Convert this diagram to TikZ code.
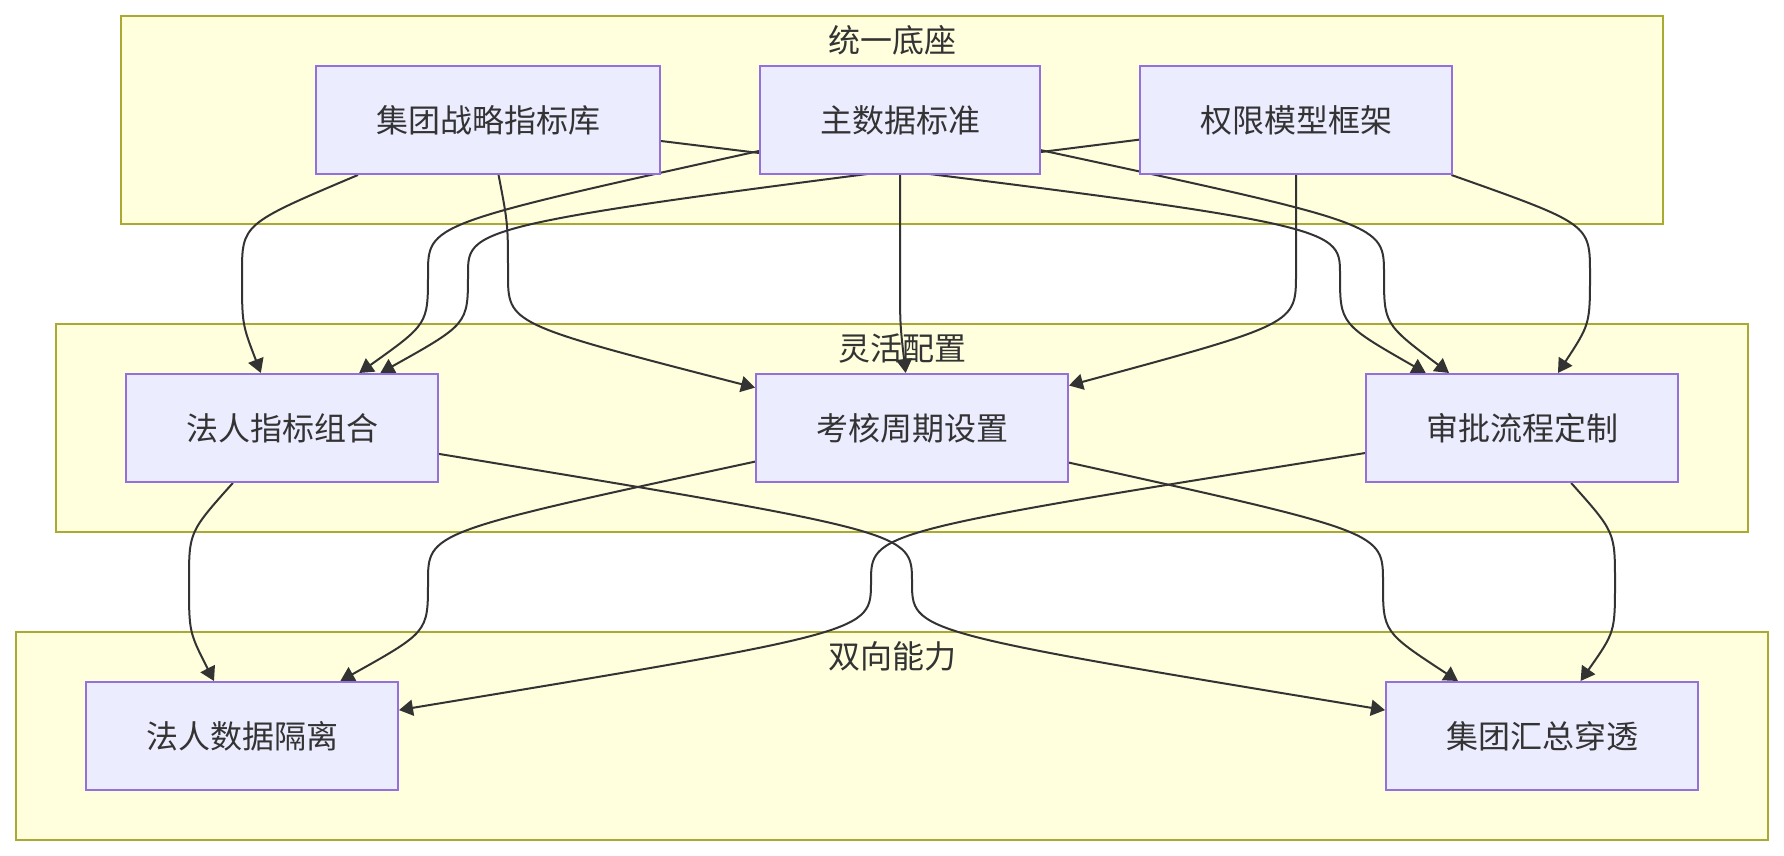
\documentclass[tikz,border=0pt]{standalone}
\usepackage{fontspec}
\setmainfont{Noto Sans CJK SC}
\usetikzlibrary{arrows.meta}
\definecolor{sgfill}{HTML}{FFFFDE}
\definecolor{sgdraw}{HTML}{AAAA33}
\definecolor{ndfill}{HTML}{ECECFF}
\definecolor{nddraw}{HTML}{9370DB}
\definecolor{ink}{HTML}{333333}
\pgfdeclarelayer{bg}
\pgfdeclarelayer{links}
\pgfsetlayers{bg,links,main}
\tikzset{
  nodebox/.style={draw=nddraw,fill=ndfill,line width=1pt,minimum height=54pt,inner xsep=30pt,inner ysep=0pt,text=ink},
  subgraph/.style={draw=sgdraw,fill=sgfill,line width=1pt},
  sgtitle/.style={text=ink,inner sep=0pt},
  link/.style={draw=ink,line width=1pt,-{Triangle[length=7pt,width=8pt]}}
}
\begin{document}
\begin{tikzpicture}[x=0.5pt,y=-0.5pt,font=\fontsize{16pt}{19pt}\selectfont]
\useasboundingbox (0,0) rectangle (1784,856);
% subgraphs
\begin{pgfonlayer}{bg}
\draw[subgraph] (121,16) rectangle (1663,224);
\draw[subgraph] (56,324) rectangle (1748,532);
\draw[subgraph] (16,632) rectangle (1768,840);
\end{pgfonlayer}
\node[sgtitle] (base) at (892,40) {统一底座};
\node[sgtitle] (conf) at (902,348) {灵活配置};
\node[sgtitle] (dual) at (892,656) {双向能力};
% nodes
\node[nodebox] (jt) at (488,120) {集团战略指标库};
\node[nodebox] (zsj) at (900,120) {主数据标准};
\node[nodebox] (qx) at (1296,120) {权限模型框架};
\node[nodebox] (frzb) at (282,428) {法人指标组合};
\node[nodebox] (khzq) at (912,428) {考核周期设置};
\node[nodebox] (sp) at (1522,428) {审批流程定制};
\node[nodebox] (frsj) at (242,736) {法人数据隔离};
\node[nodebox] (jthz) at (1542,736) {集团汇总穿透};
% links
\begin{pgfonlayer}{links}
\foreach \a/\b/\x in {jt/frzb/242, jt/khzq/508, jt/sp/1340, zsj/frzb/428, zsj/khzq/900, zsj/sp/1384, qx/frzb/468, qx/khzq/1296, qx/sp/1590}
  \draw[link] (\a) .. controls (\x,224) .. (\x,274) .. controls (\x,324) .. (\b);
\foreach \a/\b/\x in {frzb/frsj/189, frzb/jthz/912, khzq/frsj/428, khzq/jthz/1383, sp/frsj/871, sp/jthz/1615}
  \draw[link] (\a) .. controls (\x,532) .. (\x,582) .. controls (\x,632) .. (\b);
\end{pgfonlayer}
\end{tikzpicture}
\end{document}
